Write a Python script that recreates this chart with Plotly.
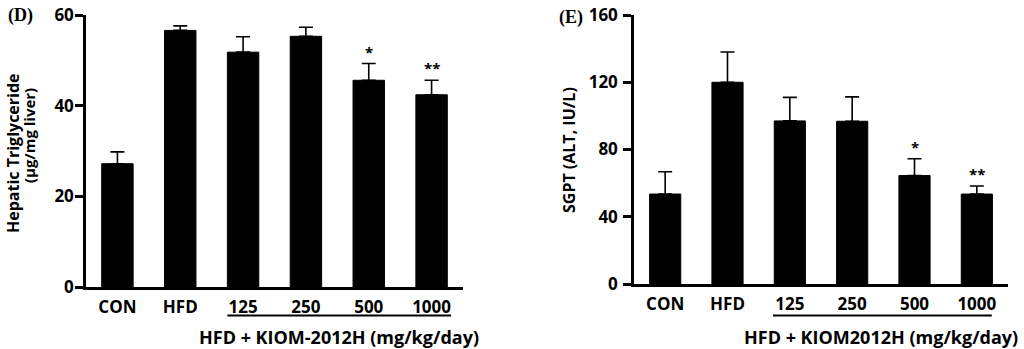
import plotly.graph_objects as go

# ---- data ----
categories = ["CON", "HFD", "125", "250", "500", "1000"]

tg_values = [27.2, 56.6, 51.8, 55.3, 45.6, 42.4]
tg_errors = [2.6, 1.0, 3.4, 2.0, 3.7, 3.2]
tg_marks = ["", "", "", "", "*", "**"]
tg_ticks = [0, 20, 40, 60]

alt_values = [53.5, 120.0, 97.0, 96.8, 64.5, 53.5]
alt_errors = [13.3, 18.0, 14.0, 14.5, 10.0, 4.8]
alt_marks = ["", "", "", "", "*", "**"]
alt_ticks = [0, 40, 80, 120, 160]

FONT = "Open Sans"
W, H = 1024, 349
pos = list(range(len(categories)))


def px_x(p):
    return p / W


def px_y(p):
    return 1 - p / H


fig = go.Figure()

for vals, errs, xa, ya in [
    (tg_values, tg_errors, "x", "y"),
    (alt_values, alt_errors, "x2", "y2"),
]:
    fig.add_trace(go.Bar(
        x=pos, y=vals, xaxis=xa, yaxis=ya,
        width=0.5,
        marker=dict(color="black", line=dict(color="black", width=1)),
        error_y=dict(type="data", symmetric=False, array=errs,
                     arrayminus=[0] * len(errs),
                     color="black", thickness=1.6, width=7),
        customdata=categories,
        hovertemplate="%{customdata}: %{y}<extra></extra>",
    ))

axis_common = dict(showline=True, linecolor="black", linewidth=2.5,
                   showgrid=False, zeroline=False, automargin=False)

xcommon = dict(range=[-0.5, 5.5], tickvals=pos, ticktext=categories, ticks="",
               tickfont=dict(size=17, weight="bold"), ticklabelstandoff=3,
               **axis_common)
ycommon = dict(ticks="outside", ticklen=8, tickwidth=2.5, tickcolor="black",
               tickfont=dict(size=17, weight="bold"), **axis_common)

fig.update_layout(
    template="none",
    width=W, height=H,
    margin=dict(l=0, r=0, t=0, b=0, autoexpand=False),
    plot_bgcolor="white", paper_bgcolor="white",
    showlegend=False,
    font=dict(family=FONT, color="black"),
    xaxis=dict(domain=[px_x(86), px_x(463)], anchor="y", **xcommon),
    yaxis=dict(domain=[px_y(287), px_y(15)], range=[0, 60], anchor="x",
               tickvals=tg_ticks, ticklabelstandoff=-2, **ycommon),
    xaxis2=dict(domain=[px_x(634), px_x(1008)], anchor="y2", **xcommon),
    yaxis2=dict(domain=[px_y(284), px_y(15)], range=[0, 160], anchor="x2",
                tickvals=alt_ticks, ticklabelstandoff=2, **ycommon),
)

annotations = []
# significance marks
for vals, errs, marks, xa, ya in [
    (tg_values, tg_errors, tg_marks, "x", "y"),
    (alt_values, alt_errors, alt_marks, "x2", "y2"),
]:
    for p, v, e, m in zip(pos, vals, errs, marks):
        if m:
            annotations.append(dict(x=p, y=v + e, xref=xa, yref=ya, text=m,
                                    showarrow=False, xanchor="center",
                                    yanchor="bottom", yshift=0,
                                    font=dict(size=15, weight="bold")))

center = dict(showarrow=False, xanchor="center", yanchor="middle")

# group labels
annotations.append(dict(x=3.52, xref="x", y=px_y(337), yref="paper",
                        text="HFD + KIOM-2012H (mg/kg/day)",
                        font=dict(size=18, weight="bold"), **center))
annotations.append(dict(x=3.47, xref="x2", y=px_y(337), yref="paper",
                        text="HFD + KIOM2012H (mg/kg/day)",
                        font=dict(size=18, weight="bold"), **center))

# y titles
annotations.append(dict(x=px_x(13), y=px_y(153), xref="paper", yref="paper",
                        text="Hepatic Triglyceride", textangle=-90,
                        font=dict(size=16, weight="bold"), **center))
annotations.append(dict(x=px_x(29), y=px_y(136), xref="paper", yref="paper",
                        text="(µg/mg liver)", textangle=-90,
                        font=dict(size=15, weight="bold"), **center))
annotations.append(dict(x=px_x(569), y=px_y(150), xref="paper", yref="paper",
                        text="SGPT (ALT, IU/L)", textangle=-90,
                        font=dict(size=16, weight="bold"), **center))

# panel letters
annotations.append(dict(x=px_x(20), y=px_y(15), xref="paper", yref="paper",
                        text="(D)",
                        font=dict(family="Liberation Serif", size=18, weight="bold"),
                        **center))
annotations.append(dict(x=px_x(571), y=px_y(17), xref="paper", yref="paper",
                        text="(E)",
                        font=dict(family="Liberation Serif", size=18, weight="bold"),
                        **center))

fig.update_layout(annotations=annotations)

# underline under dose groups
fig.add_shape(type="line", xref="x", yref="paper", x0=1.75, x1=5.31,
              y0=px_y(315.5), y1=px_y(315.5), line=dict(color="black", width=2))
fig.add_shape(type="line", xref="x2", yref="paper", x0=1.73, x1=5.24,
              y0=px_y(315.5), y1=px_y(315.5), line=dict(color="black", width=2))

fig.write_html("out.html", config={"displayModeBar": False},
               post_script="document.body.style.margin='0';document.body.style.overflow='hidden';")
